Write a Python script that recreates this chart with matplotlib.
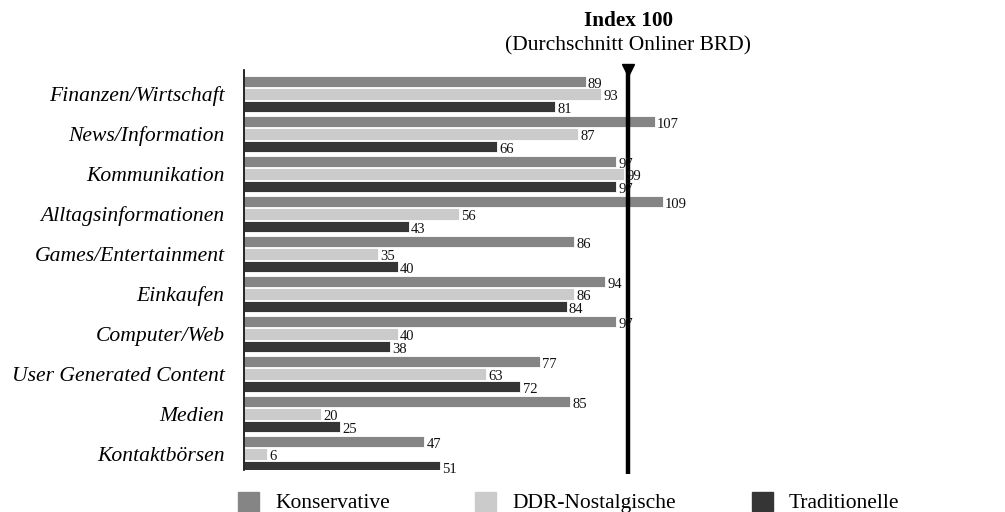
import matplotlib
matplotlib.use("Agg")
import matplotlib.pyplot as plt
from matplotlib.patches import Rectangle
import numpy as np

categories = ["Finanzen/Wirtschaft", "News/Information", "Kommunikation",
              "Alltagsinformationen", "Games/Entertainment", "Einkaufen",
              "Computer/Web", "User Generated Content", "Medien", "Kontaktbörsen"]
konservative = [89, 107, 97, 109, 86, 94, 97, 77, 85, 47]
ddr_nostalgische = [93, 87, 99, 56, 35, 86, 40, 63, 20, 6]
traditionelle = [81, 66, 97, 43, 40, 84, 38, 72, 25, 51]
series_names = ["Konservative", "DDR-Nostalgische", "Traditionelle"]
colors = ["#858585", "#cbcbcb", "#353535"]
index_value = 100

plt.rcParams['font.family'] = ['Liberation Serif', 'DejaVu Serif']

W, H = 1005, 512
fig = plt.figure(figsize=(W / 100, H / 100), dpi=100)
# axes in pixel terms: left 244, right 1000, top 70, bottom 470
ax = fig.add_axes([244 / W, 1 - 470 / H, (1000 - 244) / W, 400 / H])
ax.set_xlim(0, (1000 - 244) / 3.84)
ax.set_ylim(9.4, -0.6)

y = np.arange(len(categories))
offsets = [-0.3125, 0.0, 0.3125]
bar_h = 0.28
all_series = [konservative, ddr_nostalgische, traditionelle]
for vals, off, col in zip(all_series, offsets, colors):
    bars = ax.barh(y + off, vals, height=bar_h, color=col, edgecolor='white', linewidth=0.6)
    for b, v in zip(bars, vals):
        ax.annotate(str(v), (b.get_width(), b.get_y() + b.get_height() / 2),
                    xytext=(1.5, -2), textcoords='offset points',
                    ha='left', va='center', fontsize=10.5, color='#111111')

ax.set_yticks(y)
ax.set_yticklabels(categories, fontsize=15.6, style='italic')
ax.tick_params(axis='y', length=0, pad=14)
ax.set_xticks([])
for s in ['top', 'right', 'bottom']:
    ax.spines[s].set_visible(False)
ax.spines['left'].set_linewidth(1.2)

# index line
ax.plot([index_value, index_value], [9.5, -0.62], color='black', lw=3.2,
        clip_on=False, solid_capstyle='butt')
ax.plot([index_value], [-0.6], marker='v', markersize=8, color='black', clip_on=False)
ax.text(index_value, -1.1, "(Durchschnitt Onliner BRD)", ha='center', va='baseline', fontsize=15.5)
ax.text(index_value, -1.7, "Index 100", ha='center', va='baseline', fontsize=15.3, fontweight='bold')

# legend
legend_x = [238, 475, 752]
for name, col, lx in zip(series_names, colors, legend_x):
    fig.patches.append(Rectangle((lx / W, 1 - 511 / H), 21 / W, 19 / H,
                                 transform=fig.transFigure, color=col))
    fig.text((lx + 37) / W, 1 - 508 / H, name, ha='left', va='baseline', fontsize=15.5)

fig.savefig("out.png", dpi=100)
